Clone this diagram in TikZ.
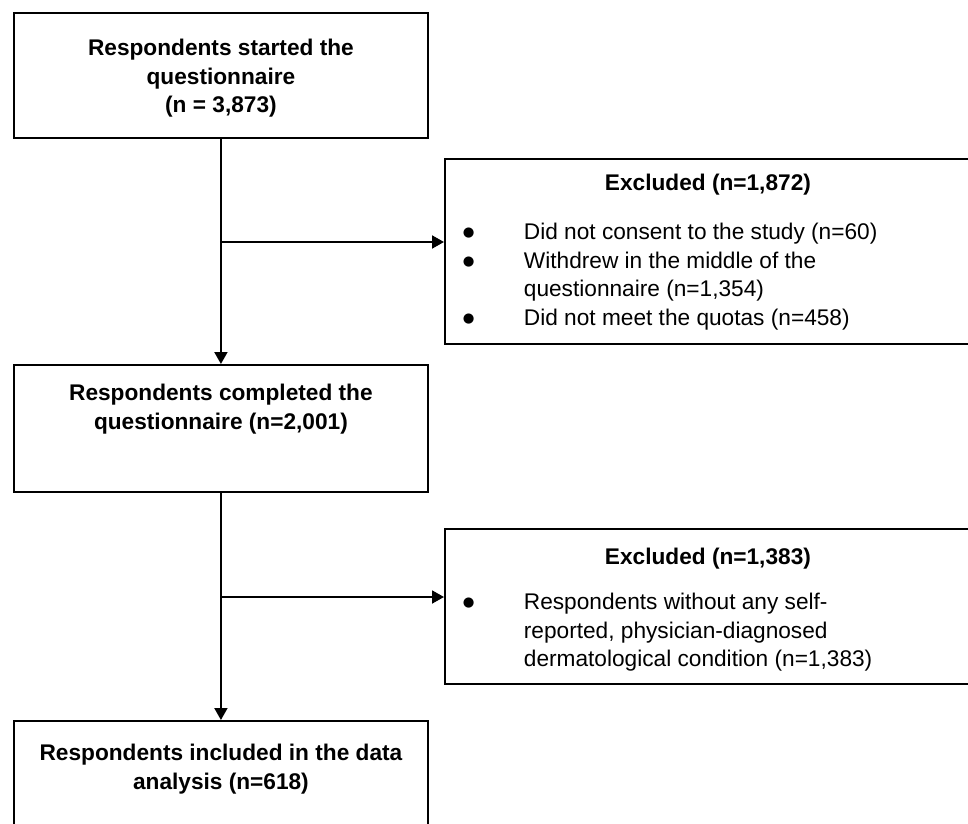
\documentclass[tikz,border=0pt]{standalone}
\usepackage{fontspec}
\setmainfont{Liberation Sans}
\newfontfamily\dotfont{DejaVu Sans}
\usetikzlibrary{arrows.meta}

\tikzset{
	flowbox/.style={draw, line width=1.4pt, inner sep=0pt, anchor=north west,
		font=\fontsize{17pt}{21.4pt}\selectfont},
	flowarrow/.style={line width=1.4pt, -{Triangle[width=9.75pt,length=9pt]}},
}
% box body: width, height, first baseline from top, text
\newcommand{\boxtext}[4]{\parbox[t][#2][t]{#1}{\rule{0pt}{#3}#4}}
% one bullet of an exclusion box
\newcommand{\exitem}[1]{\par\hangindent=59.25pt\hangafter=1 \hspace*{13.5pt}%
	\makebox[45.75pt][l]{\raisebox{2pt}{\dotfont\fontsize{10pt}{11pt}\selectfont ●}}#1}

\begin{document}
\begin{tikzpicture}[x=0.75pt, y=-0.75pt]
	\useasboundingbox (0,0) rectangle (968,824);
	\clip (0,0) rectangle (968,824);
	% main column
	\node[flowbox] (started) at (13,12) {\boxtext{310.5pt}{93.75pt}{32.25pt}{\centering\bfseries
		Respondents started the\\questionnaire\\(n = 3,873)}};
	\node[flowbox] (completed) at (13,364) {\boxtext{310.5pt}{95.25pt}{27pt}{\centering\bfseries
		Respondents completed the\\questionnaire (n=2,001)}};
	\node[flowbox] (included) at (13,720) {\boxtext{310.5pt}{82.5pt}{30pt}{\centering\bfseries
		Respondents included in the data\\analysis (n=618)}};
	% exclusions
	\node[flowbox] (excl1) at (444,158) {\boxtext{394.5pt}{138.75pt}{24pt}{\centering\bfseries
		Excluded (n=1,872)\par\vspace{15pt}\raggedright\mdseries
		\exitem{Did not consent to the study (n=60)}
		\exitem{Withdrew in the middle of the\newline questionnaire (n=1,354)}
		\exitem{Did not meet the quotas (n=458)}}};
	\node[flowbox] (excl2) at (444,528) {\boxtext{394.5pt}{116.25pt}{27pt}{\centering\bfseries
		Excluded (n=1,383)\par\vspace{12pt}\raggedright\mdseries
		\exitem{Respondents without any self-\newline reported, physician-diagnosed\newline dermatological condition (n=1,383)}}};
	% connectors
	\coordinate (split1) at (220,242);
	\coordinate (split2) at (220,597);
	\draw[flowarrow] (started) -- (completed);
	\draw[flowarrow] (completed) -- (included);
	\draw[flowarrow] (split1) -- (split1 -| excl1.west);
	\draw[flowarrow] (split2) -- (split2 -| excl2.west);
\end{tikzpicture}
\end{document}
